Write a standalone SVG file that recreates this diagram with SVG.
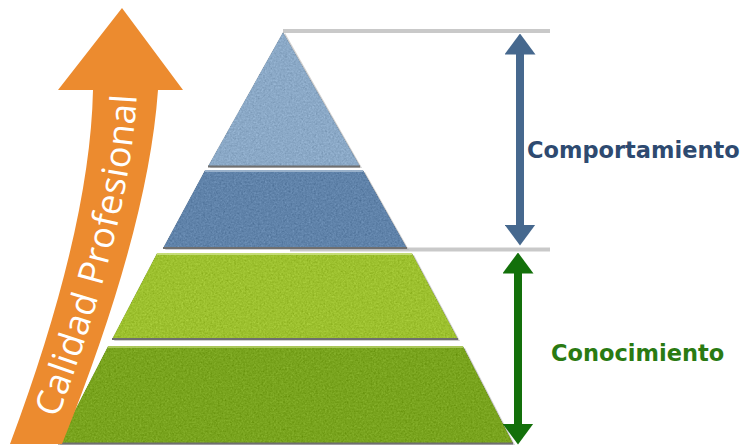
<svg xmlns="http://www.w3.org/2000/svg" width="743" height="446" viewBox="0 0 743 446">
  <style>
    .guide { stroke: #c9c9c9; stroke-width: 4; fill: none; }
    .tier { filter: url(#grain); }
    .edge-dark { stroke: #6f6f6f; stroke-width: 2; fill: none; }
    .edge-light { stroke-width: 2; fill: none; opacity: 0.8; }
    .label { font-family: "DejaVu Sans", Verdana, sans-serif; font-weight: bold; font-size: 22.5px; }
    .quality { font-family: "Open Sans", "DejaVu Sans", sans-serif; font-size: 36px; fill: #ffffff; }
  </style>
  <defs>
    <!-- fine mottled texture for the pyramid tiers -->
    <filter id="grain" x="0" y="0" width="100%" height="100%" color-interpolation-filters="sRGB">
      <feTurbulence type="fractalNoise" baseFrequency="0.55" numOctaves="2" seed="7" result="noise"/>
      <feColorMatrix in="noise" type="matrix" values="0.33 0.33 0.33 0 0  0.33 0.33 0.33 0 0  0.33 0.33 0.33 0 0  0 0 0 0 1" result="gray"/>
      <feComposite in="SourceGraphic" in2="gray" operator="arithmetic" k1="0" k2="1" k3="0.3" k4="-0.15" result="mix"/>
      <feComposite in="mix" in2="SourceGraphic" operator="in"/>
    </filter>
    <marker id="headBlue" viewBox="0 0 21 31" markerWidth="21" markerHeight="31" markerUnits="userSpaceOnUse" refX="0.5" refY="15.5" orient="auto-start-reverse">
      <path d="M0,0 L21,15.5 L0,31 Z" fill="#46688e"/>
    </marker>
    <marker id="headGreen" viewBox="0 0 21 31" markerWidth="21" markerHeight="31" markerUnits="userSpaceOnUse" refX="0.5" refY="15.5" orient="auto-start-reverse">
      <path d="M0,0 L21,15.5 L0,31 Z" fill="#13700a"/>
    </marker>
    <!-- baseline running up the curved arrow -->
    <path id="qualityPath" d="M 48,443 Q 131,230 137,90"/>
  </defs>

  <rect width="743" height="446" fill="#ffffff"/>

  <!-- guide lines marking the two ranges -->
  <line class="guide" x1="283" y1="31" x2="550" y2="31"/>
  <line class="guide" x1="290" y1="249.5" x2="550" y2="249.5"/>

  <!-- pyramid tiers, top to bottom -->
  <g id="tier-top">
    <polygon points="285,33 362,168 210,168" fill="#b0b0b0" opacity="0.6"/>
    <polygon class="tier" points="283,32 360,166 208,166" fill="#8ba9c7"/>
    <line class="edge-dark" x1="208" y1="166.5" x2="360" y2="166.5"/>
  </g>
  <g id="tier-behaviour">
    <polygon points="207,172 365,172 409,250 165,250" fill="#b0b0b0" opacity="0.6"/>
    <polygon class="tier" points="205,170 363,170 407,248 163,248" fill="#6083aa"/>
    <line class="edge-light" stroke="#a6bcd2" x1="205" y1="171" x2="363" y2="171"/>
    <line class="edge-dark" x1="163" y1="248" x2="407" y2="248"/>
  </g>
  <g id="tier-knowledge">
    <polygon points="159,255 414,255 460,341 114,341" fill="#b0b0b0" opacity="0.6"/>
    <polygon class="tier" points="157,253 412,253 458,339 112,339" fill="#9dc12f"/>
    <line class="edge-light" stroke="#cfe48a" x1="157" y1="254" x2="412" y2="254"/>
    <line class="edge-dark" x1="112" y1="339" x2="458" y2="339"/>
  </g>
  <g id="tier-base">
    <polygon points="465,348 515,445 60,445 110,348" fill="#b0b0b0" opacity="0.6"/>
    <polygon class="tier" points="108,346 463,346 513,443 58,443" fill="#79a41e"/>
    <line class="edge-light" stroke="#b6d06a" x1="108" y1="347" x2="463" y2="347"/>
    <line class="edge-dark" x1="58" y1="443.5" x2="513" y2="443.5"/>
  </g>

  <!-- rising arrow with its caption -->
  <g id="quality-arrow">
    <path d="M 93,90 L 58,90 L 122,8 L 183,90 L 158,90 Q 148,230 62,444 L 10,444 Q 90,230 93,90 Z" fill="#ec8b2f"/>
    <text class="quality"><textPath href="#qualityPath" startOffset="26" textLength="334" lengthAdjust="spacing">Calidad Profesional</textPath></text>
  </g>

  <!-- range arrows -->
  <g id="connectors">
    <line x1="520" y1="54" x2="520" y2="225" stroke="#46688e" stroke-width="8" marker-start="url(#headBlue)" marker-end="url(#headBlue)"/>
    <line x1="518" y1="273" x2="518" y2="424" stroke="#13700a" stroke-width="8" marker-start="url(#headGreen)" marker-end="url(#headGreen)"/>
  </g>

  <g id="label-behaviour">
    <text class="label" x="527" y="158" fill="#2e4a70">Comportamiento</text>
  </g>
  <g id="label-knowledge">
    <text class="label" x="551" y="361" fill="#2a7a12">Conocimiento</text>
  </g>
</svg>
